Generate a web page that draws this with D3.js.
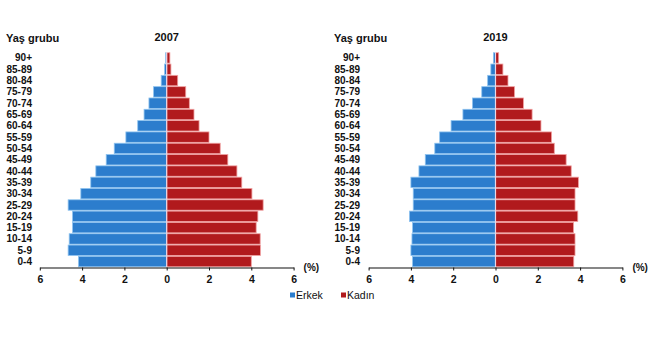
<!DOCTYPE html>
<html><head><meta charset="utf-8">
<script src="https://cdn.jsdelivr.net/npm/d3@7"></script>
<style>body{margin:0;background:#fff}svg{display:block}text{font-family:"Liberation Sans",Arial,sans-serif}</style>
</head><body>
<svg id="c" width="650" height="360"></svg>
<script>
const ageGroups = ["0-4","5-9","10-14","15-19","20-24","25-29","30-34","35-39","40-44","45-49","50-54","55-59","60-64","65-69","70-74","75-79","80-84","85-89","90+"];
const male2007   = [4.17,4.66,4.61,4.45,4.45,4.66,4.06,3.59,3.35,2.86,2.48,1.93,1.37,1.07,0.84,0.62,0.26,0.10,0.05];
const female2007 = [4.00,4.43,4.42,4.23,4.31,4.56,4.03,3.55,3.32,2.89,2.53,2.00,1.53,1.29,1.07,0.90,0.52,0.20,0.15];
const male2019   = [3.92,4.00,3.95,3.92,4.07,3.89,3.89,4.00,3.62,3.32,2.87,2.64,2.10,1.54,1.09,0.65,0.37,0.22,0.10];
const female2019 = [3.70,3.76,3.76,3.69,3.89,3.76,3.76,3.92,3.58,3.34,2.78,2.65,2.15,1.73,1.32,0.90,0.59,0.35,0.15];
const tickValues = [6,4,2,0,2,4,6];
const panels = [
  {title:"2007", male:male2007, female:female2007, zero:166.7, labelX:32},
  {title:"2019", male:male2019, female:female2019, zero:495.5, labelX:360}
];
const svg = d3.select("#c");
const pxPerUnit = 21.15;
const y = d3.scaleBand().domain(ageGroups.slice().reverse()).range([52.5, 267]).paddingInner(0.08).paddingOuter(0.02);
const blue = "#2c7dcd", blueEdge = "#8ec3ef", red = "#b11a1d", redEdge = "#f0a0a0";

panels.forEach(p => {
  const g = svg.append("g");
  const xM = d3.scaleLinear().domain([0,6]).range([p.zero, p.zero - 6*pxPerUnit]);
  const xF = d3.scaleLinear().domain([0,6]).range([p.zero, p.zero + 6*pxPerUnit]);
  const xAxisScale = d3.scaleLinear().domain([-6,6]).range([p.zero - 6*pxPerUnit, p.zero + 6*pxPerUnit]);

  g.append("text").attr("x", p.labelX - 26).attr("y", 42).attr("font-size", 11).attr("font-weight", "bold").attr("fill","#111").text("Yaş grubu");
  g.append("text").attr("x", p.zero).attr("y", 41).attr("text-anchor","middle").attr("font-size", 11).attr("font-weight","bold").attr("fill","#111").text(p.title);

  g.selectAll(".lab").data(ageGroups).enter().append("text")
    .attr("x", p.labelX).attr("y", d => y(d) + y.bandwidth()/2 + 3.5)
    .attr("text-anchor","end").attr("font-size", 10).attr("font-weight","bold").attr("fill","#111")
    .text(d => d);

  g.selectAll(".m").data(p.male).enter().append("rect")
    .attr("x", d => xM(d)).attr("y", (d,i) => y(ageGroups[i]))
    .attr("width", d => xM(0) - xM(d)).attr("height", y.bandwidth())
    .attr("fill", blue).attr("stroke", blueEdge).attr("stroke-width", 0.8);
  g.selectAll(".f").data(p.female).enter().append("rect")
    .attr("x", xF(0)).attr("y", (d,i) => y(ageGroups[i]))
    .attr("width", d => xF(d) - xF(0)).attr("height", y.bandwidth())
    .attr("fill", red).attr("stroke", redEdge).attr("stroke-width", 0.8);

  g.append("line").attr("x1", p.zero).attr("x2", p.zero).attr("y1", 52).attr("y2", 267)
    .attr("stroke", "#e8d8e8").attr("stroke-width", 1.2);

  const axis = d3.axisBottom(xAxisScale).tickValues([-6,-4,-2,0,2,4,6]).tickSize(3).tickSizeOuter(0)
    .tickFormat((d,i) => tickValues[i]);
  const ax = g.append("g").attr("transform","translate(0,267.5)").call(axis);
  ax.select(".domain").attr("stroke","#111").attr("stroke-width",1.2);
  ax.selectAll(".tick line").attr("stroke","#111");
  ax.selectAll(".tick text").attr("font-size",10.5).attr("font-weight","bold").attr("fill","#111").attr("dy","0.9em")
    .attr("font-family",'"Liberation Sans",Arial,sans-serif');

  g.append("text").attr("x", p.zero + 6*pxPerUnit + 10).attr("y", 271).attr("font-size",10).attr("font-weight","bold").attr("fill","#111").text("(%)");
});

const legend = [{name:"Erkek", color:blue, x:290},{name:"Kadın", color:red, x:341}];
const lg = svg.append("g");
lg.selectAll("rect").data(legend).enter().append("rect")
  .attr("x", d => d.x).attr("y", 292.5).attr("width",5).attr("height",5).attr("fill", d => d.color);
lg.selectAll("text").data(legend).enter().append("text")
  .attr("x", d => d.x + 6).attr("y", 299).attr("font-size",10.5).attr("fill","#111").text(d => d.name);
</script>
</body></html>
